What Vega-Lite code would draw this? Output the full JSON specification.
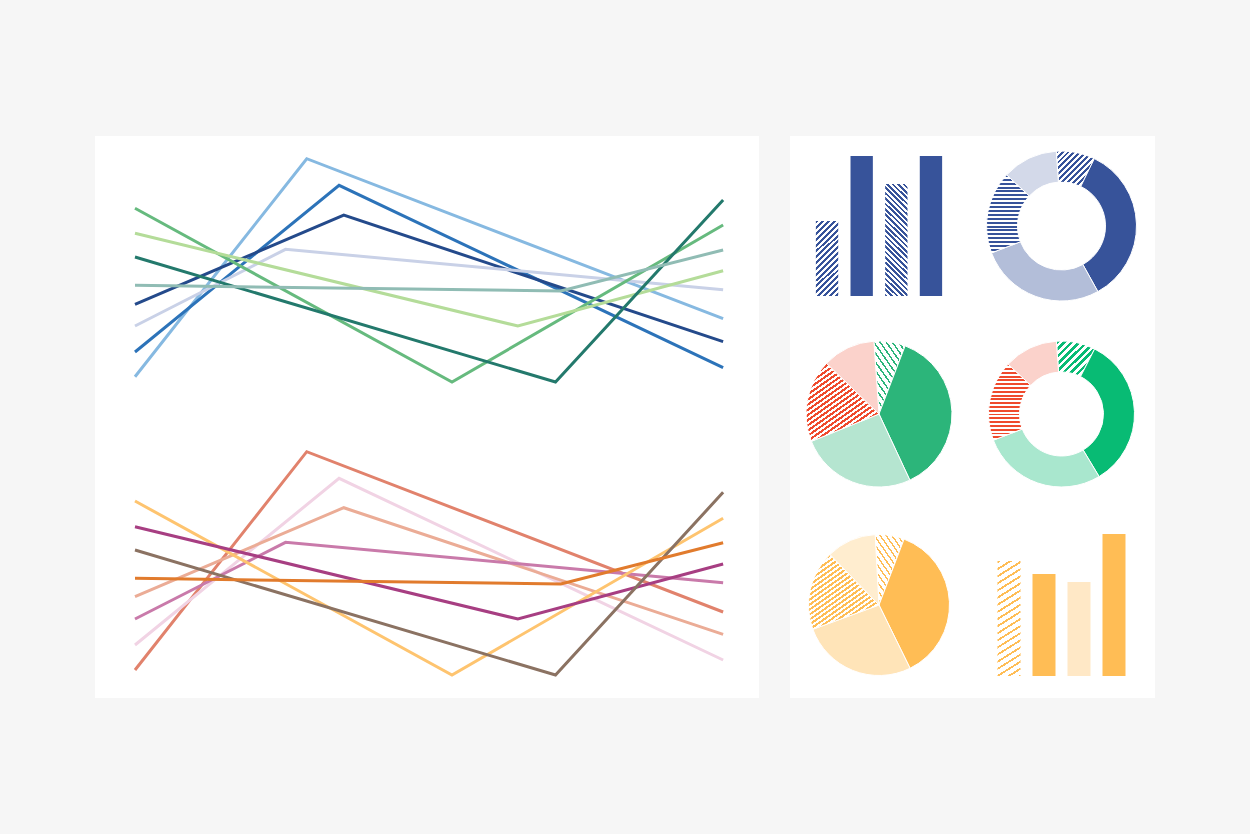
{
"$schema":"https://vega.github.io/schema/vega-lite/v6.json",
"background":"#f6f6f6",
"padding":{"left":95,"top":136,"right":95,"bottom":136},
"config":{"view":{"fill":"white","stroke":null},"concat":{"spacing":0}},
"spacing":31,
"hconcat":[
{"width":664,"height":562,
"data":{"values":[
{"s":"LB","x":0,"y":57.17},{"s":"LB","x":2.92,"y":95.96},{"s":"LB","x":10,"y":67.49},
{"s":"MB","x":0,"y":61.57},{"s":"MB","x":3.47,"y":91.23},{"s":"MB","x":10,"y":58.77},
{"s":"NV","x":0,"y":70.05},{"s":"NV","x":3.55,"y":85.94},{"s":"NV","x":10,"y":63.40},
{"s":"LV","x":0,"y":66.19},{"s":"LV","x":2.56,"y":79.84},{"s":"LV","x":10,"y":72.65},
{"s":"GR","x":0,"y":87.14},{"s":"GR","x":5.39,"y":56.23},{"s":"GR","x":10,"y":84.16},
{"s":"LG","x":0,"y":82.69},{"s":"LG","x":6.51,"y":66.19},{"s":"LG","x":10,"y":76.03},
{"s":"TE","x":0,"y":78.47},{"s":"TE","x":7.15,"y":56.23},{"s":"TE","x":10,"y":88.61},
{"s":"GT","x":0,"y":73.43},{"s":"GT","x":7.24,"y":72.42},{"s":"GT","x":10,"y":79.72},
{"s":"SA","x":0,"y":4.98},{"s":"SA","x":2.92,"y":43.83},{"s":"SA","x":10,"y":15.30},
{"s":"LP","x":0,"y":9.43},{"s":"LP","x":3.47,"y":39.09},{"s":"LP","x":10,"y":6.76},
{"s":"LS","x":0,"y":18.02},{"s":"LS","x":3.55,"y":33.86},{"s":"LS","x":10,"y":11.33},
{"s":"PP","x":0,"y":14.06},{"s":"PP","x":2.56,"y":27.70},{"s":"PP","x":10,"y":20.52},
{"s":"YE","x":0,"y":35.05},{"s":"YE","x":5.39,"y":4.09},{"s":"YE","x":10,"y":31.98},
{"s":"MA","x":0,"y":30.48},{"s":"MA","x":6.51,"y":14.06},{"s":"MA","x":10,"y":23.84},
{"s":"BR","x":0,"y":26.33},{"s":"BR","x":7.15,"y":4.09},{"s":"BR","x":10,"y":36.60},
{"s":"OR","x":0,"y":21.30},{"s":"OR","x":7.24,"y":20.28},{"s":"OR","x":10,"y":27.63}
]},
"mark":{"type":"line","strokeWidth":3},
"encoding":{
"x":{"field":"x","type":"quantitative","scale":{"domain":[-0.68,10.61],"nice":false,"zero":false},"axis":null},
"y":{"field":"y","type":"quantitative","scale":{"domain":[0,100],"nice":false},"axis":null},
"color":{"field":"s","type":"nominal","legend":null,"scale":{
"domain":["LB","MB","NV","LV","GR","LG","TE","GT","SA","LP","LS","PP","YE","MA","BR","OR"],
"range":["#86b9e1","#2c73b9","#244a8b","#c9d1e7","#66ba7e","#b4dc99","#23796c","#90bcb4","#e1826c","#f1d3e4","#ebac96","#c97aaa","#fec46f","#a73e82","#8b7262","#e17b2d"]}}
}},
{"vconcat":[
{"hconcat":[
{"width":178,"height":180,
"data":{"values":[{"b":"1","v":75,"p":"r"},{"b":"2","v":140,"p":"s"},{"b":"3","v":112,"p":"l"},{"b":"4","v":140,"p":"s"}]},
"mark":{"type":"bar"},
"encoding":{
"x":{"field":"b","type":"nominal","scale":{"paddingInner":0.355,"paddingOuter":0.747},"axis":null},
"y":{"field":"v","type":"quantitative","scale":{"domain":[-20,160],"nice":false},"axis":null},
"fill":{"condition":[
{"test":"datum.p==='r'","value":{"gradient":"linear","x1":0,"y1":0,"x2":0.349,"y2":1.191,"stops":[
{"offset":0,"color":"#37539a"},{"offset":0.03,"color":"#37539a"},{"offset":0.03,"color":"#ffffff"},{"offset":0.06,"color":"#ffffff"},
{"offset":0.06,"color":"#37539a"},{"offset":0.09,"color":"#37539a"},{"offset":0.09,"color":"#ffffff"},{"offset":0.12,"color":"#ffffff"},
{"offset":0.12,"color":"#37539a"},{"offset":0.15,"color":"#37539a"},{"offset":0.15,"color":"#ffffff"},{"offset":0.18,"color":"#ffffff"},
{"offset":0.18,"color":"#37539a"},{"offset":0.21,"color":"#37539a"},{"offset":0.21,"color":"#ffffff"},{"offset":0.24,"color":"#ffffff"},
{"offset":0.24,"color":"#37539a"},{"offset":0.27,"color":"#37539a"},{"offset":0.27,"color":"#ffffff"},{"offset":0.30,"color":"#ffffff"},
{"offset":0.30,"color":"#37539a"},{"offset":0.33,"color":"#37539a"},{"offset":0.33,"color":"#ffffff"},{"offset":0.36,"color":"#ffffff"},
{"offset":0.36,"color":"#37539a"},{"offset":0.39,"color":"#37539a"},{"offset":0.39,"color":"#ffffff"},{"offset":0.42,"color":"#ffffff"},
{"offset":0.42,"color":"#37539a"},{"offset":0.45,"color":"#37539a"},{"offset":0.45,"color":"#ffffff"},{"offset":0.48,"color":"#ffffff"},
{"offset":0.48,"color":"#37539a"},{"offset":0.51,"color":"#37539a"},{"offset":0.51,"color":"#ffffff"},{"offset":0.54,"color":"#ffffff"},
{"offset":0.54,"color":"#37539a"},{"offset":0.57,"color":"#37539a"},{"offset":0.57,"color":"#ffffff"},{"offset":0.60,"color":"#ffffff"},
{"offset":0.60,"color":"#37539a"},{"offset":0.63,"color":"#37539a"},{"offset":0.63,"color":"#ffffff"},{"offset":0.66,"color":"#ffffff"},
{"offset":0.66,"color":"#37539a"},{"offset":0.69,"color":"#37539a"},{"offset":0.69,"color":"#ffffff"},{"offset":0.72,"color":"#ffffff"},
{"offset":0.72,"color":"#37539a"},{"offset":0.75,"color":"#37539a"},{"offset":0.75,"color":"#ffffff"},{"offset":0.78,"color":"#ffffff"},
{"offset":0.78,"color":"#37539a"},{"offset":0.81,"color":"#37539a"},{"offset":0.81,"color":"#ffffff"},{"offset":0.84,"color":"#ffffff"},
{"offset":0.84,"color":"#37539a"},{"offset":0.87,"color":"#37539a"},{"offset":0.87,"color":"#ffffff"},{"offset":0.90,"color":"#ffffff"},
{"offset":0.90,"color":"#37539a"},{"offset":0.93,"color":"#37539a"},{"offset":0.93,"color":"#ffffff"},{"offset":0.96,"color":"#ffffff"},
{"offset":0.96,"color":"#37539a"},{"offset":0.99,"color":"#37539a"},{"offset":0.99,"color":"#ffffff"},{"offset":1,"color":"#ffffff"}]}},
{"test":"datum.p==='l'","value":{"gradient":"linear","x1":0,"y1":1,"x2":0.226,"y2":-0.152,"stops":[
{"offset":0,"color":"#37539a"},{"offset":0.02,"color":"#37539a"},{"offset":0.02,"color":"#ffffff"},{"offset":0.04,"color":"#ffffff"},
{"offset":0.04,"color":"#37539a"},{"offset":0.06,"color":"#37539a"},{"offset":0.06,"color":"#ffffff"},{"offset":0.08,"color":"#ffffff"},
{"offset":0.08,"color":"#37539a"},{"offset":0.10,"color":"#37539a"},{"offset":0.10,"color":"#ffffff"},{"offset":0.12,"color":"#ffffff"},
{"offset":0.12,"color":"#37539a"},{"offset":0.14,"color":"#37539a"},{"offset":0.14,"color":"#ffffff"},{"offset":0.16,"color":"#ffffff"},
{"offset":0.16,"color":"#37539a"},{"offset":0.18,"color":"#37539a"},{"offset":0.18,"color":"#ffffff"},{"offset":0.20,"color":"#ffffff"},
{"offset":0.20,"color":"#37539a"},{"offset":0.22,"color":"#37539a"},{"offset":0.22,"color":"#ffffff"},{"offset":0.24,"color":"#ffffff"},
{"offset":0.24,"color":"#37539a"},{"offset":0.26,"color":"#37539a"},{"offset":0.26,"color":"#ffffff"},{"offset":0.28,"color":"#ffffff"},
{"offset":0.28,"color":"#37539a"},{"offset":0.30,"color":"#37539a"},{"offset":0.30,"color":"#ffffff"},{"offset":0.32,"color":"#ffffff"},
{"offset":0.32,"color":"#37539a"},{"offset":0.34,"color":"#37539a"},{"offset":0.34,"color":"#ffffff"},{"offset":0.36,"color":"#ffffff"},
{"offset":0.36,"color":"#37539a"},{"offset":0.38,"color":"#37539a"},{"offset":0.38,"color":"#ffffff"},{"offset":0.40,"color":"#ffffff"},
{"offset":0.40,"color":"#37539a"},{"offset":0.42,"color":"#37539a"},{"offset":0.42,"color":"#ffffff"},{"offset":0.44,"color":"#ffffff"},
{"offset":0.44,"color":"#37539a"},{"offset":0.46,"color":"#37539a"},{"offset":0.46,"color":"#ffffff"},{"offset":0.48,"color":"#ffffff"},
{"offset":0.48,"color":"#37539a"},{"offset":0.50,"color":"#37539a"},{"offset":0.50,"color":"#ffffff"},{"offset":0.52,"color":"#ffffff"},
{"offset":0.52,"color":"#37539a"},{"offset":0.54,"color":"#37539a"},{"offset":0.54,"color":"#ffffff"},{"offset":0.56,"color":"#ffffff"},
{"offset":0.56,"color":"#37539a"},{"offset":0.58,"color":"#37539a"},{"offset":0.58,"color":"#ffffff"},{"offset":0.60,"color":"#ffffff"},
{"offset":0.60,"color":"#37539a"},{"offset":0.62,"color":"#37539a"},{"offset":0.62,"color":"#ffffff"},{"offset":0.64,"color":"#ffffff"},
{"offset":0.64,"color":"#37539a"},{"offset":0.66,"color":"#37539a"},{"offset":0.66,"color":"#ffffff"},{"offset":0.68,"color":"#ffffff"},
{"offset":0.68,"color":"#37539a"},{"offset":0.70,"color":"#37539a"},{"offset":0.70,"color":"#ffffff"},{"offset":0.72,"color":"#ffffff"},
{"offset":0.72,"color":"#37539a"},{"offset":0.74,"color":"#37539a"},{"offset":0.74,"color":"#ffffff"},{"offset":0.76,"color":"#ffffff"},
{"offset":0.76,"color":"#37539a"},{"offset":0.78,"color":"#37539a"},{"offset":0.78,"color":"#ffffff"},{"offset":0.80,"color":"#ffffff"},
{"offset":0.80,"color":"#37539a"},{"offset":0.82,"color":"#37539a"},{"offset":0.82,"color":"#ffffff"},{"offset":0.84,"color":"#ffffff"},
{"offset":0.84,"color":"#37539a"},{"offset":0.86,"color":"#37539a"},{"offset":0.86,"color":"#ffffff"},{"offset":0.88,"color":"#ffffff"},
{"offset":0.88,"color":"#37539a"},{"offset":0.90,"color":"#37539a"},{"offset":0.90,"color":"#ffffff"},{"offset":0.92,"color":"#ffffff"},
{"offset":0.92,"color":"#37539a"},{"offset":0.94,"color":"#37539a"},{"offset":0.94,"color":"#ffffff"},{"offset":0.96,"color":"#ffffff"},
{"offset":0.96,"color":"#37539a"},{"offset":0.98,"color":"#37539a"},{"offset":0.98,"color":"#ffffff"},{"offset":1,"color":"#ffffff"}]}}
],"value":"#37539a"}
}},
{"width":187,"height":180,"view":{"fill":"white","stroke":null},
"data":{"values":[{"k":1,"v":30,"p":"d"},{"k":2,"v":125,"p":"s"},{"k":3,"v":98,"p":"o"},{"k":4,"v":64,"p":"h"},{"k":5,"v":43,"p":"f"}]},
"mark":{"type":"arc","outerRadius":75,"innerRadius":44,"stroke":"#ffffff","strokeWidth":1},
"encoding":{
"theta":{"field":"v","type":"quantitative","stack":true,"scale":{"range":[-0.07,6.2132]}},
"order":{"field":"k","type":"quantitative"},
"detail":{"field":"k","type":"nominal"},
"fill":{"condition":[
{"test":"datum.p==='d'","value":{"gradient":"linear","x1":0,"y1":0,"x2":1.033,"y2":0.965,"stops":[
{"offset":0,"color":"#37539a"},{"offset":0.04,"color":"#37539a"},{"offset":0.04,"color":"#ffffff"},{"offset":0.08,"color":"#ffffff"},
{"offset":0.08,"color":"#37539a"},{"offset":0.12,"color":"#37539a"},{"offset":0.12,"color":"#ffffff"},{"offset":0.16,"color":"#ffffff"},
{"offset":0.16,"color":"#37539a"},{"offset":0.20,"color":"#37539a"},{"offset":0.20,"color":"#ffffff"},{"offset":0.24,"color":"#ffffff"},
{"offset":0.24,"color":"#37539a"},{"offset":0.28,"color":"#37539a"},{"offset":0.28,"color":"#ffffff"},{"offset":0.32,"color":"#ffffff"},
{"offset":0.32,"color":"#37539a"},{"offset":0.36,"color":"#37539a"},{"offset":0.36,"color":"#ffffff"},{"offset":0.40,"color":"#ffffff"},
{"offset":0.40,"color":"#37539a"},{"offset":0.44,"color":"#37539a"},{"offset":0.44,"color":"#ffffff"},{"offset":0.48,"color":"#ffffff"},
{"offset":0.48,"color":"#37539a"},{"offset":0.52,"color":"#37539a"},{"offset":0.52,"color":"#ffffff"},{"offset":0.56,"color":"#ffffff"},
{"offset":0.56,"color":"#37539a"},{"offset":0.60,"color":"#37539a"},{"offset":0.60,"color":"#ffffff"},{"offset":0.64,"color":"#ffffff"},
{"offset":0.64,"color":"#37539a"},{"offset":0.68,"color":"#37539a"},{"offset":0.68,"color":"#ffffff"},{"offset":0.72,"color":"#ffffff"},
{"offset":0.72,"color":"#37539a"},{"offset":0.76,"color":"#37539a"},{"offset":0.76,"color":"#ffffff"},{"offset":0.80,"color":"#ffffff"},
{"offset":0.80,"color":"#37539a"},{"offset":0.84,"color":"#37539a"},{"offset":0.84,"color":"#ffffff"},{"offset":0.88,"color":"#ffffff"},
{"offset":0.88,"color":"#37539a"},{"offset":0.92,"color":"#37539a"},{"offset":0.92,"color":"#ffffff"},{"offset":0.96,"color":"#ffffff"},
{"offset":0.96,"color":"#37539a"},{"offset":1,"color":"#37539a"}]}},
{"test":"datum.p==='s'","value":"#37539a"},
{"test":"datum.p==='o'","value":"#b3bed9"},
{"test":"datum.p==='h'","value":{"gradient":"linear","x1":0,"y1":0,"x2":0,"y2":1,"stops":[
{"offset":0,"color":"#37539a"},{"offset":0.025,"color":"#37539a"},{"offset":0.025,"color":"#ffffff"},{"offset":0.05,"color":"#ffffff"},
{"offset":0.05,"color":"#37539a"},{"offset":0.075,"color":"#37539a"},{"offset":0.075,"color":"#ffffff"},{"offset":0.1,"color":"#ffffff"},
{"offset":0.1,"color":"#37539a"},{"offset":0.125,"color":"#37539a"},{"offset":0.125,"color":"#ffffff"},{"offset":0.15,"color":"#ffffff"},
{"offset":0.15,"color":"#37539a"},{"offset":0.175,"color":"#37539a"},{"offset":0.175,"color":"#ffffff"},{"offset":0.2,"color":"#ffffff"},
{"offset":0.2,"color":"#37539a"},{"offset":0.225,"color":"#37539a"},{"offset":0.225,"color":"#ffffff"},{"offset":0.25,"color":"#ffffff"},
{"offset":0.25,"color":"#37539a"},{"offset":0.275,"color":"#37539a"},{"offset":0.275,"color":"#ffffff"},{"offset":0.3,"color":"#ffffff"},
{"offset":0.3,"color":"#37539a"},{"offset":0.325,"color":"#37539a"},{"offset":0.325,"color":"#ffffff"},{"offset":0.35,"color":"#ffffff"},
{"offset":0.35,"color":"#37539a"},{"offset":0.375,"color":"#37539a"},{"offset":0.375,"color":"#ffffff"},{"offset":0.4,"color":"#ffffff"},
{"offset":0.4,"color":"#37539a"},{"offset":0.425,"color":"#37539a"},{"offset":0.425,"color":"#ffffff"},{"offset":0.45,"color":"#ffffff"},
{"offset":0.45,"color":"#37539a"},{"offset":0.475,"color":"#37539a"},{"offset":0.475,"color":"#ffffff"},{"offset":0.5,"color":"#ffffff"},
{"offset":0.5,"color":"#37539a"},{"offset":0.525,"color":"#37539a"},{"offset":0.525,"color":"#ffffff"},{"offset":0.55,"color":"#ffffff"},
{"offset":0.55,"color":"#37539a"},{"offset":0.575,"color":"#37539a"},{"offset":0.575,"color":"#ffffff"},{"offset":0.6,"color":"#ffffff"},
{"offset":0.6,"color":"#37539a"},{"offset":0.625,"color":"#37539a"},{"offset":0.625,"color":"#ffffff"},{"offset":0.65,"color":"#ffffff"},
{"offset":0.65,"color":"#37539a"},{"offset":0.675,"color":"#37539a"},{"offset":0.675,"color":"#ffffff"},{"offset":0.7,"color":"#ffffff"},
{"offset":0.7,"color":"#37539a"},{"offset":0.725,"color":"#37539a"},{"offset":0.725,"color":"#ffffff"},{"offset":0.75,"color":"#ffffff"},
{"offset":0.75,"color":"#37539a"},{"offset":0.775,"color":"#37539a"},{"offset":0.775,"color":"#ffffff"},{"offset":0.8,"color":"#ffffff"},
{"offset":0.8,"color":"#37539a"},{"offset":0.825,"color":"#37539a"},{"offset":0.825,"color":"#ffffff"},{"offset":0.85,"color":"#ffffff"},
{"offset":0.85,"color":"#37539a"},{"offset":0.875,"color":"#37539a"},{"offset":0.875,"color":"#ffffff"},{"offset":0.9,"color":"#ffffff"},
{"offset":0.9,"color":"#37539a"},{"offset":0.925,"color":"#37539a"},{"offset":0.925,"color":"#ffffff"},{"offset":0.95,"color":"#ffffff"},
{"offset":0.95,"color":"#37539a"},{"offset":0.975,"color":"#37539a"},{"offset":0.975,"color":"#ffffff"},{"offset":1,"color":"#ffffff"}]}}
],"value":"#d3d9e9"}
}}
]},
{"hconcat":[
{"width":178,"height":196,"view":{"fill":"white","stroke":null},
"data":{"values":[{"k":1,"v":25,"p":"d"},{"k":2,"v":134,"p":"s"},{"k":3,"v":93,"p":"o"},{"k":4,"v":66,"p":"h"},{"k":5,"v":42,"p":"f"}]},
"mark":{"type":"arc","outerRadius":73,"stroke":"#ffffff","strokeWidth":1},
"encoding":{
"theta":{"field":"v","type":"quantitative","stack":true,"scale":{"range":[-0.07,6.2132]}},
"order":{"field":"k","type":"quantitative"},
"detail":{"field":"k","type":"nominal"},
"fill":{"condition":[
{"test":"datum.p==='d'","value":{"gradient":"linear","x1":0,"y1":1,"x2":0.717,"y2":-0.173,"stops":[
{"offset":0,"color":"#2cb57a"},{"offset":0.022,"color":"#2cb57a"},{"offset":0.022,"color":"#ffffff"},{"offset":0.075,"color":"#ffffff"},
{"offset":0.075,"color":"#2cb57a"},{"offset":0.097,"color":"#2cb57a"},{"offset":0.097,"color":"#ffffff"},{"offset":0.15,"color":"#ffffff"},
{"offset":0.15,"color":"#2cb57a"},{"offset":0.172,"color":"#2cb57a"},{"offset":0.172,"color":"#ffffff"},{"offset":0.225,"color":"#ffffff"},
{"offset":0.225,"color":"#2cb57a"},{"offset":0.247,"color":"#2cb57a"},{"offset":0.247,"color":"#ffffff"},{"offset":0.3,"color":"#ffffff"},
{"offset":0.3,"color":"#2cb57a"},{"offset":0.322,"color":"#2cb57a"},{"offset":0.322,"color":"#ffffff"},{"offset":0.375,"color":"#ffffff"},
{"offset":0.375,"color":"#2cb57a"},{"offset":0.397,"color":"#2cb57a"},{"offset":0.397,"color":"#ffffff"},{"offset":0.45,"color":"#ffffff"},
{"offset":0.45,"color":"#2cb57a"},{"offset":0.472,"color":"#2cb57a"},{"offset":0.472,"color":"#ffffff"},{"offset":0.525,"color":"#ffffff"},
{"offset":0.525,"color":"#2cb57a"},{"offset":0.547,"color":"#2cb57a"},{"offset":0.547,"color":"#ffffff"},{"offset":0.6,"color":"#ffffff"},
{"offset":0.6,"color":"#2cb57a"},{"offset":0.622,"color":"#2cb57a"},{"offset":0.622,"color":"#ffffff"},{"offset":0.675,"color":"#ffffff"},
{"offset":0.675,"color":"#2cb57a"},{"offset":0.697,"color":"#2cb57a"},{"offset":0.697,"color":"#ffffff"},{"offset":0.75,"color":"#ffffff"},
{"offset":0.75,"color":"#2cb57a"},{"offset":0.772,"color":"#2cb57a"},{"offset":0.772,"color":"#ffffff"},{"offset":0.825,"color":"#ffffff"},
{"offset":0.825,"color":"#2cb57a"},{"offset":0.847,"color":"#2cb57a"},{"offset":0.847,"color":"#ffffff"},{"offset":0.9,"color":"#ffffff"},
{"offset":0.9,"color":"#2cb57a"},{"offset":0.922,"color":"#2cb57a"},{"offset":0.922,"color":"#ffffff"},{"offset":0.975,"color":"#ffffff"},
{"offset":0.975,"color":"#2cb57a"},{"offset":0.997,"color":"#2cb57a"},{"offset":0.997,"color":"#ffffff"},{"offset":1,"color":"#ffffff"}]}},
{"test":"datum.p==='s'","value":"#2cb57a"},
{"test":"datum.p==='o'","value":"#b5e5d0"},
{"test":"datum.p==='h'","value":{"gradient":"linear","x1":0,"y1":0,"x2":0.759,"y2":1.158,"stops":[
{"offset":0,"color":"#ef4a2d"},{"offset":0.02,"color":"#ef4a2d"},{"offset":0.02,"color":"#ffffff"},{"offset":0.04,"color":"#ffffff"},
{"offset":0.04,"color":"#ef4a2d"},{"offset":0.06,"color":"#ef4a2d"},{"offset":0.06,"color":"#ffffff"},{"offset":0.08,"color":"#ffffff"},
{"offset":0.08,"color":"#ef4a2d"},{"offset":0.10,"color":"#ef4a2d"},{"offset":0.10,"color":"#ffffff"},{"offset":0.12,"color":"#ffffff"},
{"offset":0.12,"color":"#ef4a2d"},{"offset":0.14,"color":"#ef4a2d"},{"offset":0.14,"color":"#ffffff"},{"offset":0.16,"color":"#ffffff"},
{"offset":0.16,"color":"#ef4a2d"},{"offset":0.18,"color":"#ef4a2d"},{"offset":0.18,"color":"#ffffff"},{"offset":0.20,"color":"#ffffff"},
{"offset":0.20,"color":"#ef4a2d"},{"offset":0.22,"color":"#ef4a2d"},{"offset":0.22,"color":"#ffffff"},{"offset":0.24,"color":"#ffffff"},
{"offset":0.24,"color":"#ef4a2d"},{"offset":0.26,"color":"#ef4a2d"},{"offset":0.26,"color":"#ffffff"},{"offset":0.28,"color":"#ffffff"},
{"offset":0.28,"color":"#ef4a2d"},{"offset":0.30,"color":"#ef4a2d"},{"offset":0.30,"color":"#ffffff"},{"offset":0.32,"color":"#ffffff"},
{"offset":0.32,"color":"#ef4a2d"},{"offset":0.34,"color":"#ef4a2d"},{"offset":0.34,"color":"#ffffff"},{"offset":0.36,"color":"#ffffff"},
{"offset":0.36,"color":"#ef4a2d"},{"offset":0.38,"color":"#ef4a2d"},{"offset":0.38,"color":"#ffffff"},{"offset":0.40,"color":"#ffffff"},
{"offset":0.40,"color":"#ef4a2d"},{"offset":0.42,"color":"#ef4a2d"},{"offset":0.42,"color":"#ffffff"},{"offset":0.44,"color":"#ffffff"},
{"offset":0.44,"color":"#ef4a2d"},{"offset":0.46,"color":"#ef4a2d"},{"offset":0.46,"color":"#ffffff"},{"offset":0.48,"color":"#ffffff"},
{"offset":0.48,"color":"#ef4a2d"},{"offset":0.50,"color":"#ef4a2d"},{"offset":0.50,"color":"#ffffff"},{"offset":0.52,"color":"#ffffff"},
{"offset":0.52,"color":"#ef4a2d"},{"offset":0.54,"color":"#ef4a2d"},{"offset":0.54,"color":"#ffffff"},{"offset":0.56,"color":"#ffffff"},
{"offset":0.56,"color":"#ef4a2d"},{"offset":0.58,"color":"#ef4a2d"},{"offset":0.58,"color":"#ffffff"},{"offset":0.60,"color":"#ffffff"},
{"offset":0.60,"color":"#ef4a2d"},{"offset":0.62,"color":"#ef4a2d"},{"offset":0.62,"color":"#ffffff"},{"offset":0.64,"color":"#ffffff"},
{"offset":0.64,"color":"#ef4a2d"},{"offset":0.66,"color":"#ef4a2d"},{"offset":0.66,"color":"#ffffff"},{"offset":0.68,"color":"#ffffff"},
{"offset":0.68,"color":"#ef4a2d"},{"offset":0.70,"color":"#ef4a2d"},{"offset":0.70,"color":"#ffffff"},{"offset":0.72,"color":"#ffffff"},
{"offset":0.72,"color":"#ef4a2d"},{"offset":0.74,"color":"#ef4a2d"},{"offset":0.74,"color":"#ffffff"},{"offset":0.76,"color":"#ffffff"},
{"offset":0.76,"color":"#ef4a2d"},{"offset":0.78,"color":"#ef4a2d"},{"offset":0.78,"color":"#ffffff"},{"offset":0.80,"color":"#ffffff"},
{"offset":0.80,"color":"#ef4a2d"},{"offset":0.82,"color":"#ef4a2d"},{"offset":0.82,"color":"#ffffff"},{"offset":0.84,"color":"#ffffff"},
{"offset":0.84,"color":"#ef4a2d"},{"offset":0.86,"color":"#ef4a2d"},{"offset":0.86,"color":"#ffffff"},{"offset":0.88,"color":"#ffffff"},
{"offset":0.88,"color":"#ef4a2d"},{"offset":0.90,"color":"#ef4a2d"},{"offset":0.90,"color":"#ffffff"},{"offset":0.92,"color":"#ffffff"},
{"offset":0.92,"color":"#ef4a2d"},{"offset":0.94,"color":"#ef4a2d"},{"offset":0.94,"color":"#ffffff"},{"offset":0.96,"color":"#ffffff"},
{"offset":0.96,"color":"#ef4a2d"},{"offset":0.98,"color":"#ef4a2d"},{"offset":0.98,"color":"#ffffff"},{"offset":1,"color":"#ffffff"}]}}
],"value":"#fbd2cb"}
}},
{"width":187,"height":196,"view":{"fill":"white","stroke":null},
"data":{"values":[{"k":1,"v":31,"p":"d"},{"k":2,"v":122,"p":"s"},{"k":3,"v":100,"p":"o"},{"k":4,"v":64,"p":"h"},{"k":5,"v":43,"p":"f"}]},
"mark":{"type":"arc","outerRadius":73,"innerRadius":42,"stroke":"#ffffff","strokeWidth":1},
"encoding":{
"theta":{"field":"v","type":"quantitative","stack":true,"scale":{"range":[-0.07,6.2132]}},
"order":{"field":"k","type":"quantitative"},
"detail":{"field":"k","type":"nominal"},
"fill":{"condition":[
{"test":"datum.p==='d'","value":{"gradient":"linear","x1":0,"y1":0,"x2":1.03,"y2":0.97,"stops":[
{"offset":0,"color":"#08bb74"},{"offset":0.05,"color":"#08bb74"},{"offset":0.05,"color":"#ffffff"},{"offset":0.1,"color":"#ffffff"},
{"offset":0.1,"color":"#08bb74"},{"offset":0.15,"color":"#08bb74"},{"offset":0.15,"color":"#ffffff"},{"offset":0.2,"color":"#ffffff"},
{"offset":0.2,"color":"#08bb74"},{"offset":0.25,"color":"#08bb74"},{"offset":0.25,"color":"#ffffff"},{"offset":0.3,"color":"#ffffff"},
{"offset":0.3,"color":"#08bb74"},{"offset":0.35,"color":"#08bb74"},{"offset":0.35,"color":"#ffffff"},{"offset":0.4,"color":"#ffffff"},
{"offset":0.4,"color":"#08bb74"},{"offset":0.45,"color":"#08bb74"},{"offset":0.45,"color":"#ffffff"},{"offset":0.5,"color":"#ffffff"},
{"offset":0.5,"color":"#08bb74"},{"offset":0.55,"color":"#08bb74"},{"offset":0.55,"color":"#ffffff"},{"offset":0.6,"color":"#ffffff"},
{"offset":0.6,"color":"#08bb74"},{"offset":0.65,"color":"#08bb74"},{"offset":0.65,"color":"#ffffff"},{"offset":0.7,"color":"#ffffff"},
{"offset":0.7,"color":"#08bb74"},{"offset":0.75,"color":"#08bb74"},{"offset":0.75,"color":"#ffffff"},{"offset":0.8,"color":"#ffffff"},
{"offset":0.8,"color":"#08bb74"},{"offset":0.85,"color":"#08bb74"},{"offset":0.85,"color":"#ffffff"},{"offset":0.9,"color":"#ffffff"},
{"offset":0.9,"color":"#08bb74"},{"offset":0.95,"color":"#08bb74"},{"offset":0.95,"color":"#ffffff"},{"offset":1,"color":"#ffffff"}]}},
{"test":"datum.p==='s'","value":"#08bb74"},
{"test":"datum.p==='o'","value":"#a9e7ce"},
{"test":"datum.p==='h'","value":{"gradient":"linear","x1":0,"y1":0,"x2":0,"y2":1,"stops":[
{"offset":0,"color":"#ef4a2d"},{"offset":0.025,"color":"#ef4a2d"},{"offset":0.025,"color":"#ffffff"},{"offset":0.05,"color":"#ffffff"},
{"offset":0.05,"color":"#ef4a2d"},{"offset":0.075,"color":"#ef4a2d"},{"offset":0.075,"color":"#ffffff"},{"offset":0.1,"color":"#ffffff"},
{"offset":0.1,"color":"#ef4a2d"},{"offset":0.125,"color":"#ef4a2d"},{"offset":0.125,"color":"#ffffff"},{"offset":0.15,"color":"#ffffff"},
{"offset":0.15,"color":"#ef4a2d"},{"offset":0.175,"color":"#ef4a2d"},{"offset":0.175,"color":"#ffffff"},{"offset":0.2,"color":"#ffffff"},
{"offset":0.2,"color":"#ef4a2d"},{"offset":0.225,"color":"#ef4a2d"},{"offset":0.225,"color":"#ffffff"},{"offset":0.25,"color":"#ffffff"},
{"offset":0.25,"color":"#ef4a2d"},{"offset":0.275,"color":"#ef4a2d"},{"offset":0.275,"color":"#ffffff"},{"offset":0.3,"color":"#ffffff"},
{"offset":0.3,"color":"#ef4a2d"},{"offset":0.325,"color":"#ef4a2d"},{"offset":0.325,"color":"#ffffff"},{"offset":0.35,"color":"#ffffff"},
{"offset":0.35,"color":"#ef4a2d"},{"offset":0.375,"color":"#ef4a2d"},{"offset":0.375,"color":"#ffffff"},{"offset":0.4,"color":"#ffffff"},
{"offset":0.4,"color":"#ef4a2d"},{"offset":0.425,"color":"#ef4a2d"},{"offset":0.425,"color":"#ffffff"},{"offset":0.45,"color":"#ffffff"},
{"offset":0.45,"color":"#ef4a2d"},{"offset":0.475,"color":"#ef4a2d"},{"offset":0.475,"color":"#ffffff"},{"offset":0.5,"color":"#ffffff"},
{"offset":0.5,"color":"#ef4a2d"},{"offset":0.525,"color":"#ef4a2d"},{"offset":0.525,"color":"#ffffff"},{"offset":0.55,"color":"#ffffff"},
{"offset":0.55,"color":"#ef4a2d"},{"offset":0.575,"color":"#ef4a2d"},{"offset":0.575,"color":"#ffffff"},{"offset":0.6,"color":"#ffffff"},
{"offset":0.6,"color":"#ef4a2d"},{"offset":0.625,"color":"#ef4a2d"},{"offset":0.625,"color":"#ffffff"},{"offset":0.65,"color":"#ffffff"},
{"offset":0.65,"color":"#ef4a2d"},{"offset":0.675,"color":"#ef4a2d"},{"offset":0.675,"color":"#ffffff"},{"offset":0.7,"color":"#ffffff"},
{"offset":0.7,"color":"#ef4a2d"},{"offset":0.725,"color":"#ef4a2d"},{"offset":0.725,"color":"#ffffff"},{"offset":0.75,"color":"#ffffff"},
{"offset":0.75,"color":"#ef4a2d"},{"offset":0.775,"color":"#ef4a2d"},{"offset":0.775,"color":"#ffffff"},{"offset":0.8,"color":"#ffffff"},
{"offset":0.8,"color":"#ef4a2d"},{"offset":0.825,"color":"#ef4a2d"},{"offset":0.825,"color":"#ffffff"},{"offset":0.85,"color":"#ffffff"},
{"offset":0.85,"color":"#ef4a2d"},{"offset":0.875,"color":"#ef4a2d"},{"offset":0.875,"color":"#ffffff"},{"offset":0.9,"color":"#ffffff"},
{"offset":0.9,"color":"#ef4a2d"},{"offset":0.925,"color":"#ef4a2d"},{"offset":0.925,"color":"#ffffff"},{"offset":0.95,"color":"#ffffff"},
{"offset":0.95,"color":"#ef4a2d"},{"offset":0.975,"color":"#ef4a2d"},{"offset":0.975,"color":"#ffffff"},{"offset":1,"color":"#ffffff"}]}}
],"value":"#fbd2cb"}
}}
]},
{"hconcat":[
{"width":178,"height":186,"view":{"fill":"white","stroke":null},
"data":{"values":[{"k":1,"v":24,"p":"d"},{"k":2,"v":133,"p":"s"},{"k":3,"v":96,"p":"o"},{"k":4,"v":66,"p":"h"},{"k":5,"v":41,"p":"f"}]},
"mark":{"type":"arc","outerRadius":70.5,"stroke":"#ffffff","strokeWidth":1},
"encoding":{
"theta":{"field":"v","type":"quantitative","stack":true,"scale":{"range":[-0.055,6.2282]}},
"order":{"field":"k","type":"quantitative"},
"detail":{"field":"k","type":"nominal"},
"fill":{"condition":[
{"test":"datum.p==='d'","value":{"gradient":"linear","x1":0,"y1":1,"x2":0.693,"y2":-0.18,"stops":[
{"offset":0,"color":"#ffbd55"},{"offset":0.022,"color":"#ffbd55"},{"offset":0.022,"color":"#ffffff"},{"offset":0.075,"color":"#ffffff"},
{"offset":0.075,"color":"#ffbd55"},{"offset":0.097,"color":"#ffbd55"},{"offset":0.097,"color":"#ffffff"},{"offset":0.15,"color":"#ffffff"},
{"offset":0.15,"color":"#ffbd55"},{"offset":0.172,"color":"#ffbd55"},{"offset":0.172,"color":"#ffffff"},{"offset":0.225,"color":"#ffffff"},
{"offset":0.225,"color":"#ffbd55"},{"offset":0.247,"color":"#ffbd55"},{"offset":0.247,"color":"#ffffff"},{"offset":0.3,"color":"#ffffff"},
{"offset":0.3,"color":"#ffbd55"},{"offset":0.322,"color":"#ffbd55"},{"offset":0.322,"color":"#ffffff"},{"offset":0.375,"color":"#ffffff"},
{"offset":0.375,"color":"#ffbd55"},{"offset":0.397,"color":"#ffbd55"},{"offset":0.397,"color":"#ffffff"},{"offset":0.45,"color":"#ffffff"},
{"offset":0.45,"color":"#ffbd55"},{"offset":0.472,"color":"#ffbd55"},{"offset":0.472,"color":"#ffffff"},{"offset":0.525,"color":"#ffffff"},
{"offset":0.525,"color":"#ffbd55"},{"offset":0.547,"color":"#ffbd55"},{"offset":0.547,"color":"#ffffff"},{"offset":0.6,"color":"#ffffff"},
{"offset":0.6,"color":"#ffbd55"},{"offset":0.622,"color":"#ffbd55"},{"offset":0.622,"color":"#ffffff"},{"offset":0.675,"color":"#ffffff"},
{"offset":0.675,"color":"#ffbd55"},{"offset":0.697,"color":"#ffbd55"},{"offset":0.697,"color":"#ffffff"},{"offset":0.75,"color":"#ffffff"},
{"offset":0.75,"color":"#ffbd55"},{"offset":0.772,"color":"#ffbd55"},{"offset":0.772,"color":"#ffffff"},{"offset":0.825,"color":"#ffffff"},
{"offset":0.825,"color":"#ffbd55"},{"offset":0.847,"color":"#ffbd55"},{"offset":0.847,"color":"#ffffff"},{"offset":0.9,"color":"#ffffff"},
{"offset":0.9,"color":"#ffbd55"},{"offset":0.922,"color":"#ffbd55"},{"offset":0.922,"color":"#ffffff"},{"offset":0.975,"color":"#ffffff"},
{"offset":0.975,"color":"#ffbd55"},{"offset":0.997,"color":"#ffbd55"},{"offset":0.997,"color":"#ffffff"},{"offset":1,"color":"#ffffff"}]}},
{"test":"datum.p==='s'","value":"#ffbd55"},
{"test":"datum.p==='o'","value":"#ffe4b8"},
{"test":"datum.p==='h'","value":{"gradient":"linear","x1":0,"y1":0,"x2":0.763,"y2":1.156,"stops":[
{"offset":0,"color":"#ffbd55"},{"offset":0.02,"color":"#ffbd55"},{"offset":0.02,"color":"#ffffff"},{"offset":0.04,"color":"#ffffff"},
{"offset":0.04,"color":"#ffbd55"},{"offset":0.06,"color":"#ffbd55"},{"offset":0.06,"color":"#ffffff"},{"offset":0.08,"color":"#ffffff"},
{"offset":0.08,"color":"#ffbd55"},{"offset":0.10,"color":"#ffbd55"},{"offset":0.10,"color":"#ffffff"},{"offset":0.12,"color":"#ffffff"},
{"offset":0.12,"color":"#ffbd55"},{"offset":0.14,"color":"#ffbd55"},{"offset":0.14,"color":"#ffffff"},{"offset":0.16,"color":"#ffffff"},
{"offset":0.16,"color":"#ffbd55"},{"offset":0.18,"color":"#ffbd55"},{"offset":0.18,"color":"#ffffff"},{"offset":0.20,"color":"#ffffff"},
{"offset":0.20,"color":"#ffbd55"},{"offset":0.22,"color":"#ffbd55"},{"offset":0.22,"color":"#ffffff"},{"offset":0.24,"color":"#ffffff"},
{"offset":0.24,"color":"#ffbd55"},{"offset":0.26,"color":"#ffbd55"},{"offset":0.26,"color":"#ffffff"},{"offset":0.28,"color":"#ffffff"},
{"offset":0.28,"color":"#ffbd55"},{"offset":0.30,"color":"#ffbd55"},{"offset":0.30,"color":"#ffffff"},{"offset":0.32,"color":"#ffffff"},
{"offset":0.32,"color":"#ffbd55"},{"offset":0.34,"color":"#ffbd55"},{"offset":0.34,"color":"#ffffff"},{"offset":0.36,"color":"#ffffff"},
{"offset":0.36,"color":"#ffbd55"},{"offset":0.38,"color":"#ffbd55"},{"offset":0.38,"color":"#ffffff"},{"offset":0.40,"color":"#ffffff"},
{"offset":0.40,"color":"#ffbd55"},{"offset":0.42,"color":"#ffbd55"},{"offset":0.42,"color":"#ffffff"},{"offset":0.44,"color":"#ffffff"},
{"offset":0.44,"color":"#ffbd55"},{"offset":0.46,"color":"#ffbd55"},{"offset":0.46,"color":"#ffffff"},{"offset":0.48,"color":"#ffffff"},
{"offset":0.48,"color":"#ffbd55"},{"offset":0.50,"color":"#ffbd55"},{"offset":0.50,"color":"#ffffff"},{"offset":0.52,"color":"#ffffff"},
{"offset":0.52,"color":"#ffbd55"},{"offset":0.54,"color":"#ffbd55"},{"offset":0.54,"color":"#ffffff"},{"offset":0.56,"color":"#ffffff"},
{"offset":0.56,"color":"#ffbd55"},{"offset":0.58,"color":"#ffbd55"},{"offset":0.58,"color":"#ffffff"},{"offset":0.60,"color":"#ffffff"},
{"offset":0.60,"color":"#ffbd55"},{"offset":0.62,"color":"#ffbd55"},{"offset":0.62,"color":"#ffffff"},{"offset":0.64,"color":"#ffffff"},
{"offset":0.64,"color":"#ffbd55"},{"offset":0.66,"color":"#ffbd55"},{"offset":0.66,"color":"#ffffff"},{"offset":0.68,"color":"#ffffff"},
{"offset":0.68,"color":"#ffbd55"},{"offset":0.70,"color":"#ffbd55"},{"offset":0.70,"color":"#ffffff"},{"offset":0.72,"color":"#ffffff"},
{"offset":0.72,"color":"#ffbd55"},{"offset":0.74,"color":"#ffbd55"},{"offset":0.74,"color":"#ffffff"},{"offset":0.76,"color":"#ffffff"},
{"offset":0.76,"color":"#ffbd55"},{"offset":0.78,"color":"#ffbd55"},{"offset":0.78,"color":"#ffffff"},{"offset":0.80,"color":"#ffffff"},
{"offset":0.80,"color":"#ffbd55"},{"offset":0.82,"color":"#ffbd55"},{"offset":0.82,"color":"#ffffff"},{"offset":0.84,"color":"#ffffff"},
{"offset":0.84,"color":"#ffbd55"},{"offset":0.86,"color":"#ffbd55"},{"offset":0.86,"color":"#ffffff"},{"offset":0.88,"color":"#ffffff"},
{"offset":0.88,"color":"#ffbd55"},{"offset":0.90,"color":"#ffbd55"},{"offset":0.90,"color":"#ffffff"},{"offset":0.92,"color":"#ffffff"},
{"offset":0.92,"color":"#ffbd55"},{"offset":0.94,"color":"#ffbd55"},{"offset":0.94,"color":"#ffffff"},{"offset":0.96,"color":"#ffffff"},
{"offset":0.96,"color":"#ffbd55"},{"offset":0.98,"color":"#ffbd55"},{"offset":0.98,"color":"#ffffff"},{"offset":1,"color":"#ffffff"}]}}
],"value":"#ffedcf"}
}},
{"width":187,"height":186,
"data":{"values":[{"b":"1","v":115,"p":"r"},{"b":"2","v":102,"p":"s"},{"b":"3","v":94,"p":"f"},{"b":"4","v":142,"p":"s"}]},
"mark":{"type":"bar"},
"encoding":{
"x":{"field":"b","type":"nominal","scale":{"paddingInner":0.343,"paddingOuter":0.843},"axis":null},
"y":{"field":"v","type":"quantitative","scale":{"domain":[-22,164],"nice":false},"axis":null},
"fill":{"condition":[
{"test":"datum.p==='r'","value":{"gradient":"linear","x1":0,"y1":0,"x2":0.1386,"y2":1.108,"stops":[
{"offset":0,"color":"#ffbd55"},{"offset":0.017,"color":"#ffbd55"},{"offset":0.017,"color":"#ffffff"},{"offset":0.055,"color":"#ffffff"},
{"offset":0.055,"color":"#ffbd55"},{"offset":0.072,"color":"#ffbd55"},{"offset":0.072,"color":"#ffffff"},{"offset":0.11,"color":"#ffffff"},
{"offset":0.11,"color":"#ffbd55"},{"offset":0.127,"color":"#ffbd55"},{"offset":0.127,"color":"#ffffff"},{"offset":0.165,"color":"#ffffff"},
{"offset":0.165,"color":"#ffbd55"},{"offset":0.182,"color":"#ffbd55"},{"offset":0.182,"color":"#ffffff"},{"offset":0.22,"color":"#ffffff"},
{"offset":0.22,"color":"#ffbd55"},{"offset":0.237,"color":"#ffbd55"},{"offset":0.237,"color":"#ffffff"},{"offset":0.275,"color":"#ffffff"},
{"offset":0.275,"color":"#ffbd55"},{"offset":0.292,"color":"#ffbd55"},{"offset":0.292,"color":"#ffffff"},{"offset":0.33,"color":"#ffffff"},
{"offset":0.33,"color":"#ffbd55"},{"offset":0.347,"color":"#ffbd55"},{"offset":0.347,"color":"#ffffff"},{"offset":0.385,"color":"#ffffff"},
{"offset":0.385,"color":"#ffbd55"},{"offset":0.402,"color":"#ffbd55"},{"offset":0.402,"color":"#ffffff"},{"offset":0.44,"color":"#ffffff"},
{"offset":0.44,"color":"#ffbd55"},{"offset":0.457,"color":"#ffbd55"},{"offset":0.457,"color":"#ffffff"},{"offset":0.495,"color":"#ffffff"},
{"offset":0.495,"color":"#ffbd55"},{"offset":0.512,"color":"#ffbd55"},{"offset":0.512,"color":"#ffffff"},{"offset":0.55,"color":"#ffffff"},
{"offset":0.55,"color":"#ffbd55"},{"offset":0.567,"color":"#ffbd55"},{"offset":0.567,"color":"#ffffff"},{"offset":0.605,"color":"#ffffff"},
{"offset":0.605,"color":"#ffbd55"},{"offset":0.622,"color":"#ffbd55"},{"offset":0.622,"color":"#ffffff"},{"offset":0.66,"color":"#ffffff"},
{"offset":0.66,"color":"#ffbd55"},{"offset":0.677,"color":"#ffbd55"},{"offset":0.677,"color":"#ffffff"},{"offset":0.715,"color":"#ffffff"},
{"offset":0.715,"color":"#ffbd55"},{"offset":0.732,"color":"#ffbd55"},{"offset":0.732,"color":"#ffffff"},{"offset":0.77,"color":"#ffffff"},
{"offset":0.77,"color":"#ffbd55"},{"offset":0.787,"color":"#ffbd55"},{"offset":0.787,"color":"#ffffff"},{"offset":0.825,"color":"#ffffff"},
{"offset":0.825,"color":"#ffbd55"},{"offset":0.842,"color":"#ffbd55"},{"offset":0.842,"color":"#ffffff"},{"offset":0.88,"color":"#ffffff"},
{"offset":0.88,"color":"#ffbd55"},{"offset":0.897,"color":"#ffbd55"},{"offset":0.897,"color":"#ffffff"},{"offset":0.935,"color":"#ffffff"},
{"offset":0.935,"color":"#ffbd55"},{"offset":0.952,"color":"#ffbd55"},{"offset":0.952,"color":"#ffffff"},{"offset":0.99,"color":"#ffffff"},
{"offset":0.99,"color":"#ffbd55"},{"offset":1,"color":"#ffbd55"}]}},
{"test":"datum.p==='f'","value":"#ffe8c6"}
],"value":"#ffbd55"}
}}
]}
]}
]
}
